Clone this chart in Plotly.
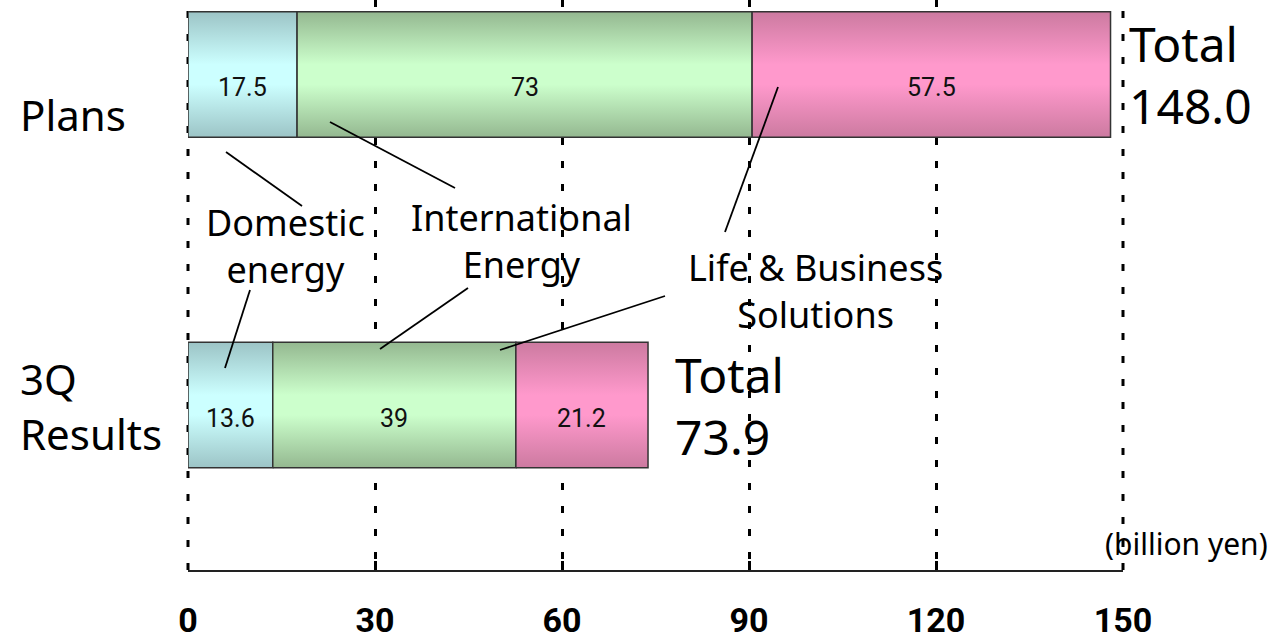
import plotly.graph_objects as go

# ---- data ----
categories = ["3Q Results", "Plans"]
segments = ["Domestic energy", "International Energy", "Life & Business Solutions"]
domestic = [13.6, 17.5]
international = [39, 73]
life = [21.2, 57.5]
totals = ["73.9", "148.0"]
x_ticks = [0, 30, 60, 90, 120, 150]

edge_colors = ["#9cc4c6", "#94b890", "#cc7aa0"]
mid_colors = ["#ccffff", "#ccffcc", "#ff99cc"]

W, H = 1279, 642
L, R, T, B = 188, 156, 0, 72
PW, PH = W - L - R, H - T - B


def px(x):
    return (x - L) / PW


def py(y):
    return 1 - (y - T) / PH


NUMFONT = "Roboto, Liberation Sans Narrow, sans-serif"
HALF = 0.19
fig = go.Figure()
series = [domestic, international, life]
for ci, cat in enumerate(categories):
    base = 0.0
    for si, vals in enumerate(series):
        v = vals[ci]
        x0, x1 = base, base + v
        fig.add_trace(go.Scatter(
            x=[x0, x1, x1, x0, x0],
            y=[ci - HALF, ci - HALF, ci + HALF, ci + HALF, ci - HALF],
            mode="lines", fill="toself",
            line=dict(color="#333333", width=1.5),
            fillgradient=dict(type="vertical",
                              colorscale=[[0, edge_colors[si]], [0.42, mid_colors[si]],
                                          [0.58, mid_colors[si]], [1, edge_colors[si]]]),
            name=segments[si], showlegend=False, hoverinfo="skip"))
        fig.add_annotation(x=(x0 + x1) / 2, y=ci, xref="x", yref="y", text=f"{v:g}",
                           showarrow=False, yshift=-13, xanchor="center", yanchor="middle",
                           font=dict(family=NUMFONT, size=25, color="#111111"))
        base = x1
    total_val = sum(s[ci] for s in series)
    fig.add_annotation(x=total_val, y=ci, xref="x", yref="y",
                       text=f"Total<br>{totals[ci]}", showarrow=False,
                       xanchor="left", xshift=16 if ci == 1 else 25, align="left",
                       font=dict(family="Noto Sans, sans-serif", size=48, color="black"))

main_font = dict(family="Noto Sans, sans-serif", color="black")

# category labels
fig.add_annotation(x=px(18), y=py(115), xref="paper", yref="paper", text="Plans",
                   showarrow=False, xanchor="left", yanchor="middle", font=dict(size=42, **main_font))
fig.add_annotation(x=px(18), y=py(406), xref="paper", yref="paper", text="3Q<br>Results",
                   showarrow=False, xanchor="left", yanchor="middle", align="left",
                   font=dict(size=42, **main_font))

# segment name labels
seg_labels = [("Domestic<br>energy", 285, 246),
              ("International<br>Energy", 521, 241),
              ("Life &amp; Business<br>Solutions", 815, 291)]
for txt, lx, ly in seg_labels:
    fig.add_annotation(x=px(lx), y=py(ly), xref="paper", yref="paper", text=txt,
                       showarrow=False, xanchor="center", yanchor="middle",
                       font=dict(size=36, **main_font))

# units
fig.add_annotation(x=px(1270), y=py(543), xref="paper", yref="paper", text="(billion yen)",
                   showarrow=False, xanchor="right", yanchor="middle",
                   font=dict(family="Noto Sans, sans-serif", size=30, color="black"))

# leader lines
leaders = [
    (226, 152, 302, 206), (225, 368, 250, 290),
    (330, 122, 455, 188), (380, 349, 468, 288),
    (778, 87, 725, 232), (500, 350, 665, 296),
]
for x0, y0, x1, y1 in leaders:
    fig.add_shape(type="line", xref="paper", yref="paper",
                  x0=px(x0), y0=py(y0), x1=px(x1), y1=py(y1),
                  line=dict(color="black", width=1.8))

GRID_DASH = "7px,16px"
# edge gridlines (plotly hides grid at the range ends); paper refs avoid clipping
for xp in (0, 1):
    fig.add_shape(type="line", xref="paper", yref="paper", x0=xp, x1=xp, y0=0, y1=1,
                  layer="below", line=dict(color="black", width=3, dash=GRID_DASH))

fig.update_xaxes(range=[0, 150], tickvals=x_ticks, ticktext=[str(t) for t in x_ticks],
                 showgrid=True, gridcolor="black", gridwidth=3, griddash=GRID_DASH,
                 zeroline=False, showline=True, linecolor="#222222", linewidth=2,
                 ticks="inside", ticklen=9, tickwidth=3, tickcolor="black",
                 ticklabelstandoff=19, automargin=False,
                 tickfont=dict(family=NUMFONT, size=34, color="black", weight="bold"))
fig.update_yaxes(range=[-0.4992, 1.2254], showgrid=False, zeroline=False, showticklabels=False,
                 showline=False)

fig.update_layout(width=W, height=H, margin=dict(l=L, r=R, t=T, b=B),
                  plot_bgcolor="white", paper_bgcolor="white", showlegend=False)

fig.write_html("out.html")
